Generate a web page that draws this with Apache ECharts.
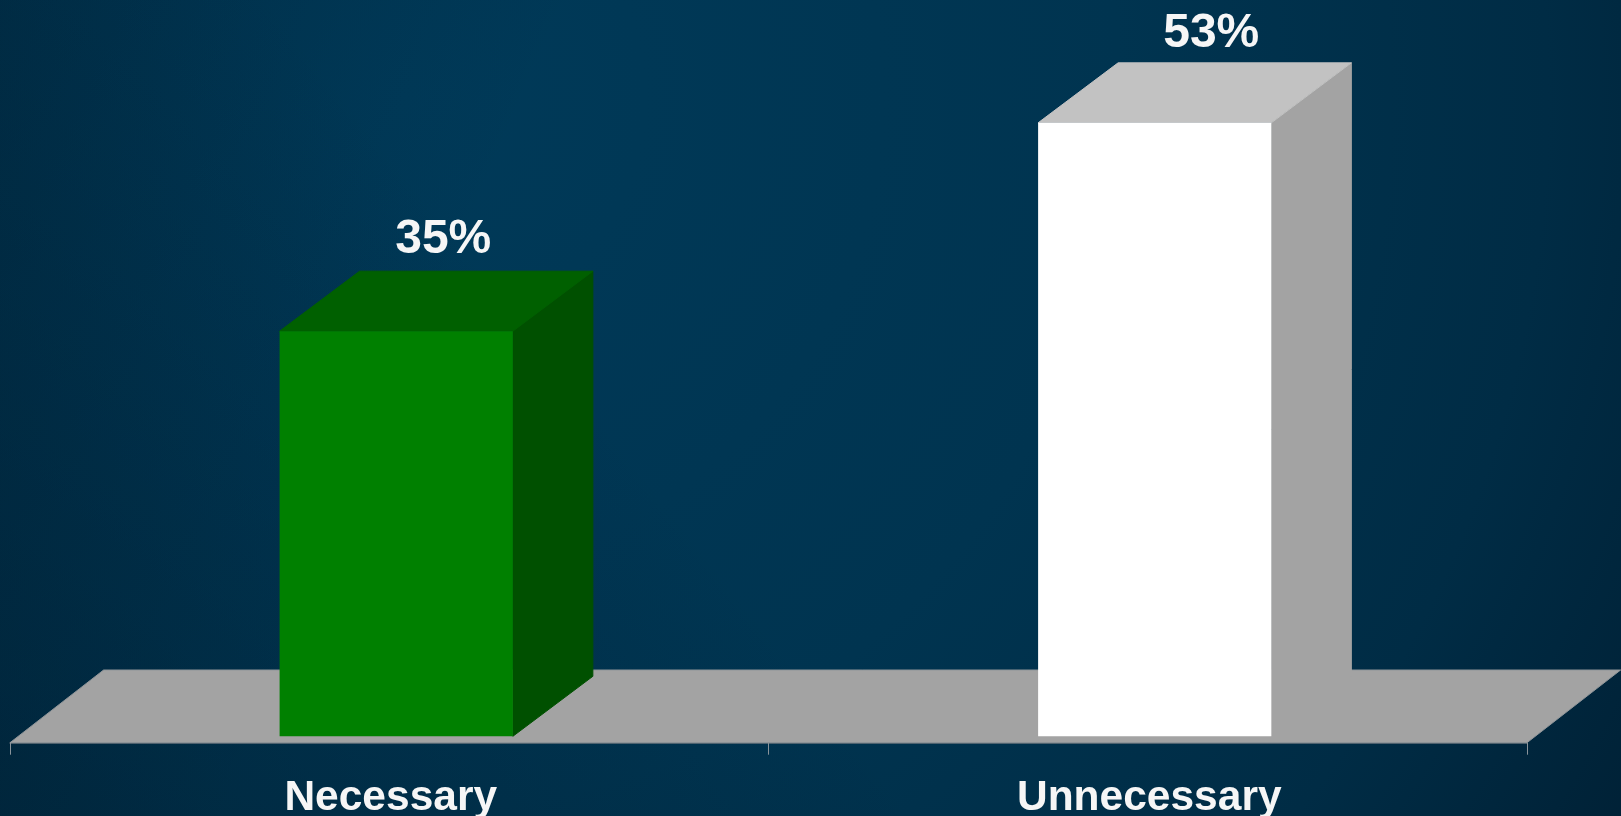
<!DOCTYPE html>
<html>
<head>
<meta charset="utf-8">
<style>html,body{margin:0;padding:0;background:#00304a}#c{width:1621px;height:816px}</style>
<script src="https://cdn.jsdelivr.net/npm/echarts@6/dist/echarts.min.js"></script>
</head>
<body>
<div id="c"></div>
<script>
const categories = ['Necessary', 'Unnecessary'];
const values = [35, 53];
const frontColors = ['#008000', '#ffffff'];
const topColors = ['#006000', '#c2c2c2'];
const sideColors = ['#005000', '#a3a3a3'];

const depthX = 80, depthY = 60;
const floorDepthX = 93.6, floorDepthY = 72.7, floorDrop = 6.4;
const labelShiftX = [47, 56.5];
const labelGapY = [7.5, 5.5];
const barWidthRatio = 0.3075, barShiftRatio = 0.0092;

const chart = echarts.init(document.getElementById('c'), null, {renderer: 'canvas'});

function poly(points, fill, stroke) {
  return {type: 'polygon', shape: {points}, style: {fill, stroke: stroke || fill, lineWidth: 1}};
}

chart.setOption({
  animation: false,
  backgroundColor: {
    type: 'radial', x: 0.25, y: 0.12, r: 1.75,
    colorStops: [
      {offset: 0, color: '#003a59'},
      {offset: 0.5, color: '#003450'},
      {offset: 0.8, color: '#002c45'},
      {offset: 1, color: '#002136'}
    ]
  },
  graphic: [{
    type: 'rect', z: -1, silent: true,
    shape: {x: 0, y: 0, width: 1621, height: 816},
    style: {fill: {type: 'linear', x: 0, y: 0, x2: 0.3, y2: 0.25, colorStops: [
      {offset: 0, color: 'rgba(0,24,40,0.28)'},
      {offset: 1, color: 'rgba(0,24,40,0)'}
    ]}}
  }, {
    type: 'rect', z: -1, silent: true,
    shape: {x: 0, y: 0, width: 1621, height: 816},
    style: {fill: {type: 'linear', x: 0, y: 1, x2: 0.35, y2: 0.45, colorStops: [
      {offset: 0, color: 'rgba(0,24,40,0.4)'},
      {offset: 1, color: 'rgba(0,24,40,0)'}
    ]}}
  }],
  grid: {left: 10, right: 94, top: 41.8, bottom: 79.7, outerBoundsMode: 'none'},
  xAxis: {
    type: 'category',
    data: categories,
    offset: floorDrop,
    axisLine: {onZero: false, lineStyle: {color: '#566570', width: 1.5}},
    axisTick: {show: true, alignWithLabel: false, length: 12, lineStyle: {color: '#8a949b', width: 1}},
    axisLabel: {color: '#f6f6f6', fontFamily: '"Liberation Sans", Arial, sans-serif', fontWeight: 'bold', fontSize: 42.5, margin: 34, padding: [0, 0, 0, 3]}
  },
  yAxis: {type: 'value', min: 0, max: 60, show: false, splitLine: {show: false}},
  series: [
    {
      type: 'custom',
      silent: true,
      z: 1,
      data: [0],
      clip: false,
      renderItem(params) {
        const g = params.coordSys;
        const fy = g.y + g.height + floorDrop;
        return poly([
          [g.x, fy],
          [g.x + floorDepthX, fy - floorDepthY],
          [g.x + g.width + floorDepthX, fy - floorDepthY],
          [g.x + g.width, fy]
        ], '#a3a3a3', '#8f9599');
      }
    },
    {
      type: 'custom',
      silent: true,
      z: 3,
      clip: false,
      data: values.map((v, i) => [categories[i], v]),
      encode: {x: 0, y: 1},
      renderItem(params, api) {
        const i = params.dataIndex;
        const base = api.coord([api.value(0), 0]);
        const top = api.coord([api.value(0), api.value(1)]);
        const band = api.size([1, 0])[0];
        const w = band * barWidthRatio;
        const l = base[0] + band * barShiftRatio - w / 2, r = l + w;
        const y0 = base[1], y1 = top[1];
        return {
          type: 'group',
          children: [
            poly([[r, y0], [r + depthX, y0 - depthY], [r + depthX, y1 - depthY], [r, y1]], sideColors[i]),
            poly([[l, y1], [l + depthX, y1 - depthY], [r + depthX, y1 - depthY], [r, y1]], topColors[i]),
            {type: 'rect', shape: {x: l, y: y1, width: w, height: y0 - y1}, style: {fill: frontColors[i]}},
            {
              type: 'text',
              style: {
                text: values[i] + '%',
                x: (l + r) / 2 + labelShiftX[i],
                y: y1 - depthY - labelGapY[i],
                fill: '#f6f6f6',
                font: 'bold 48px "Liberation Sans", Arial, sans-serif',
                align: 'center',
                verticalAlign: 'bottom'
              }
            }
          ]
        };
      }
    }
  ]
});
</script>
</body>
</html>
